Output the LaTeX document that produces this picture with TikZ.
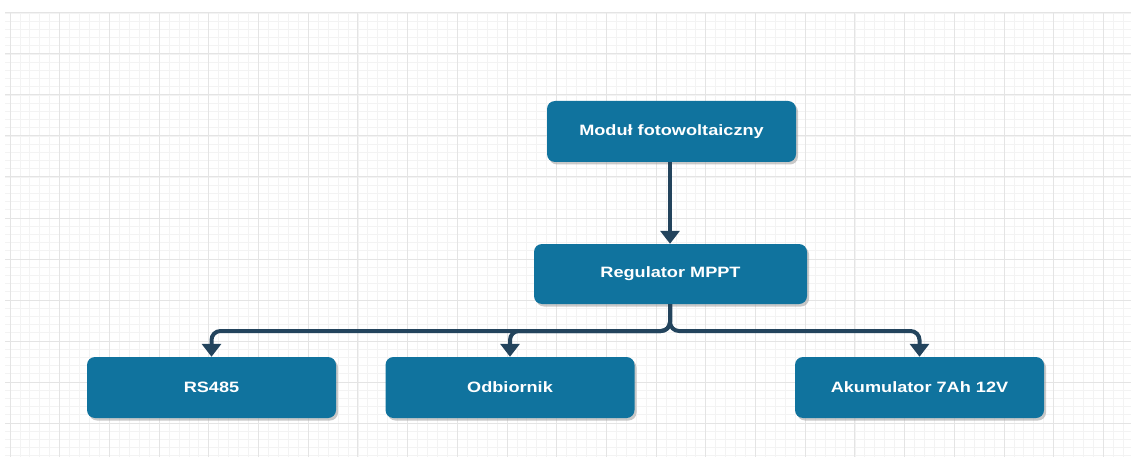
\documentclass[tikz,border=0pt]{standalone}
\usepackage{graphicx}
\usepackage{fontspec}
\setmainfont{Liberation Sans}
\usetikzlibrary{arrows.meta,shadows}
\definecolor{boxblue}{HTML}{10739E}
\definecolor{arrowblue}{HTML}{23445D}
\definecolor{gridmajor}{HTML}{E4E4E4}
\definecolor{gridminor}{HTML}{F3F3F3}
\newcommand{\widelbl}[1]{\raisebox{-2.5pt}{\scalebox{1.21}[1]{#1}}}
\tikzset{
  box/.style={rectangle, rounded corners=8pt, fill=boxblue, text=white,
    font=\fontsize{15}{17}\selectfont\bfseries, minimum width=249pt, minimum height=61pt,
    drop shadow={shadow xshift=2pt, shadow yshift=-2.5pt, fill=black!35, opacity=0.6}},
  arr/.style={draw=arrowblue, line width=4pt, rounded corners=9pt,
    -{Triangle[width=19pt,length=13pt]}},
}
\begin{document}
\begin{tikzpicture}[x=1pt,y=-1pt]
\useasboundingbox (0,0) rectangle (1131,457);
\fill[white] (0,0) rectangle (1131,457);
% minor grid
\foreach \i in {0,...,112} {
  \pgfmathsetmacro{\gx}{10+9.94*\i}
  \draw[gridminor, line width=0.8pt] (\gx,13) -- (\gx,457);
}
\foreach \j in {0,...,54} {
  \pgfmathsetmacro{\gy}{13+8.2*\j}
  \draw[gridminor, line width=0.8pt] (5,\gy) -- (1131,\gy);
}
% major grid
\foreach \i in {0,...,22} {
  \pgfmathsetmacro{\gx}{10+49.7*\i}
  \draw[gridmajor, line width=1pt] (\gx,13) -- (\gx,457);
}
\foreach \j in {0,...,10} {
  \pgfmathsetmacro{\gy}{13+41*\j}
  \draw[gridmajor, line width=1pt] (5,\gy) -- (1131,\gy);
}
% nodes
\node[box] (mod) at (671.5,131.5) {\widelbl{Moduł fotowoltaiczny}};
\node[box, minimum width=273pt, minimum height=60pt] (reg) at (670.5,274) {\widelbl{Regulator MPPT}};
\node[box] (rs) at (211.5,387.5) {\widelbl{RS485}};
\node[box] (odb) at (510,387.5) {\widelbl{Odbiornik}};
\node[box] (aku) at (919.5,387.5) {\widelbl{Akumulator 7Ah 12V}};
\coordinate (bus) at (670,331);
% connectors
\draw[arr] (mod.south -| bus) -- (reg.north -| bus);
\draw[arr] (reg.south -| bus) -- (bus) -| (rs.north);
\draw[arr] (reg.south -| bus) -- (bus) -| (odb.north);
\draw[arr] (reg.south -| bus) -- (bus) -| (aku.north);
\end{tikzpicture}
\end{document}
